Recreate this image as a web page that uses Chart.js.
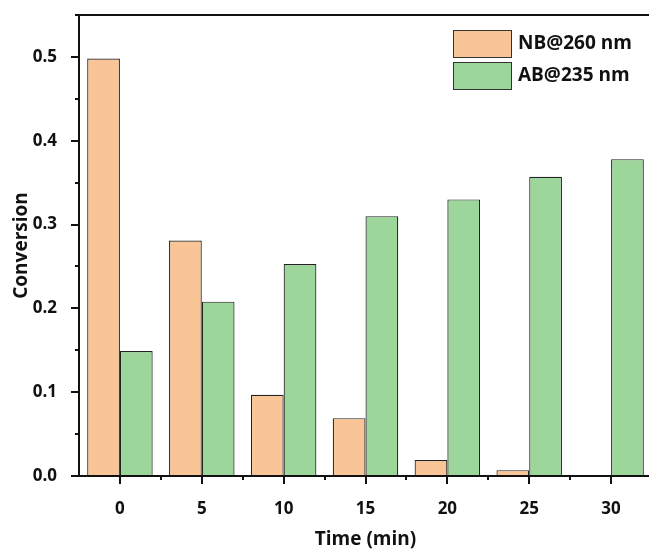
<!DOCTYPE html>
<html>
<head>
<meta charset="utf-8">
<script src="https://cdn.jsdelivr.net/npm/chart.js@4"></script>
<style>
  body { margin: 0; overflow: hidden; background: #fff; }
  canvas { display: block; }
</style>
</head>
<body>
<canvas id="barChart" width="660" height="551"></canvas>
<script>
// Chart data
const timeLabels = ['0', '5', '10', '15', '20', '25', '30'];
const nbValues = [0.498, 0.281, 0.097, 0.069, 0.019, 0.007, 0.001];
const abValues = [0.149, 0.208, 0.253, 0.310, 0.330, 0.357, 0.378];
const seriesNames = ['NB@260 nm', 'AB@235 nm'];

const fontFamily = '"Open Sans", "Noto Sans", sans-serif';

// Draws the axis frame, outward tick marks and the boxed legend
const framePlugin = {
    id: 'frame',
    afterDraw(chart) {
        const ctx = chart.ctx;
        const area = chart.chartArea;
        const xs = chart.scales.x;
        const ys = chart.scales.y;
        const left = Math.round(area.left);
        const top = Math.round(area.top);
        const bottom = Math.round(area.bottom);
        const right = Math.round(area.right);
        ctx.save();
        ctx.strokeStyle = '#111';
        ctx.lineWidth = 2;

        // full frame around the plot
        ctx.beginPath();
        ctx.moveTo(left, top);
        ctx.lineTo(right, top);
        ctx.lineTo(right, bottom);
        ctx.lineTo(left, bottom);
        ctx.closePath();
        ctx.stroke();

        // y ticks: major every 0.1, minor every 0.05
        for (let i = 0; i <= 11; i++) {
            const py = Math.round(ys.getPixelForValue(i * 0.05));
            const len = i % 2 === 0 ? 8 : 4;
            ctx.beginPath();
            ctx.moveTo(left, py);
            ctx.lineTo(left - len, py);
            ctx.stroke();
        }

        // x ticks: major at each label, minor between them
        for (let i = 0; i < timeLabels.length; i++) {
            const px = Math.round(xs.getPixelForValue(i));
            ctx.beginPath();
            ctx.moveTo(px, bottom);
            ctx.lineTo(px, bottom + 8);
            ctx.stroke();
            if (i < timeLabels.length - 1) {
                const mx = Math.round((xs.getPixelForValue(i) + xs.getPixelForValue(i + 1)) / 2);
                ctx.beginPath();
                ctx.moveTo(mx, bottom);
                ctx.lineTo(mx, bottom + 4);
                ctx.stroke();
            }
        }

        // legend
        ctx.font = 'bold 19px ' + fontFamily;
        ctx.textBaseline = 'middle';
        ctx.textAlign = 'left';
        chart.data.datasets.forEach((ds, i) => {
            const bx = 453, by = 30 + i * 32;
            ctx.fillStyle = ds.backgroundColor;
            ctx.fillRect(bx, by, 58, 27);
            ctx.lineWidth = 1;
            ctx.strokeStyle = '#333';
            ctx.strokeRect(bx + 0.5, by + 0.5, 58, 27);
            ctx.fillStyle = '#111';
            ctx.fillText(ds.label, 518, by + 14);
        });
        ctx.restore();
    }
};

const barCtx = document.getElementById('barChart').getContext('2d');
new Chart(barCtx, {
    type: 'bar',
    data: {
        labels: timeLabels,
        datasets: [
            {
                label: seriesNames[0],
                data: nbValues,
                backgroundColor: '#f9c596',
                borderColor: '#222',
                borderWidth: 1.2
            },
            {
                label: seriesNames[1],
                data: abValues,
                backgroundColor: '#9dd69b',
                borderColor: '#222',
                borderWidth: 1.2
            }
        ]
    },
    options: {
        responsive: false,
        animation: false,
        layout: { padding: { top: 15, right: 8, left: 0, bottom: 0 } },
        plugins: {
            legend: { display: false },
            tooltip: { enabled: false }
        },
        datasets: {
            bar: { categoryPercentage: 0.8, barPercentage: 1.0 }
        },
        scales: {
            x: {
                grid: { display: false },
                border: { display: false },
                ticks: {
                    color: '#111',
                    padding: 15,
                    font: { family: fontFamily, size: 17, weight: 'bold' }
                },
                title: {
                    display: true,
                    text: 'Time (min)',
                    color: '#111',
                    padding: { top: 0, bottom: 0 },
                    font: { family: fontFamily, size: 19, weight: 'bold' }
                },
                afterFit(scale) { scale.height = 75; }
            },
            y: {
                min: 0,
                max: 0.55,
                grid: { display: false },
                border: { display: false },
                ticks: {
                    stepSize: 0.1,
                    color: '#111',
                    padding: 14,
                    font: { family: fontFamily, size: 17, weight: 'bold' },
                    callback: v => {
                        const r = Math.round(v * 10) / 10;
                        return Math.abs(r - v) < 1e-6 ? r.toFixed(1) : '';
                    }
                },
                title: {
                    display: true,
                    text: 'Conversion',
                    color: '#111',
                    padding: { top: 10, bottom: 0 },
                    font: { family: fontFamily, size: 19, weight: 'bold' }
                },
                afterFit(scale) {
                    scale.width = 79;
                    scale.paddingTop = 0;
                }
            }
        }
    },
    plugins: [framePlugin]
});
</script>
</body>
</html>
